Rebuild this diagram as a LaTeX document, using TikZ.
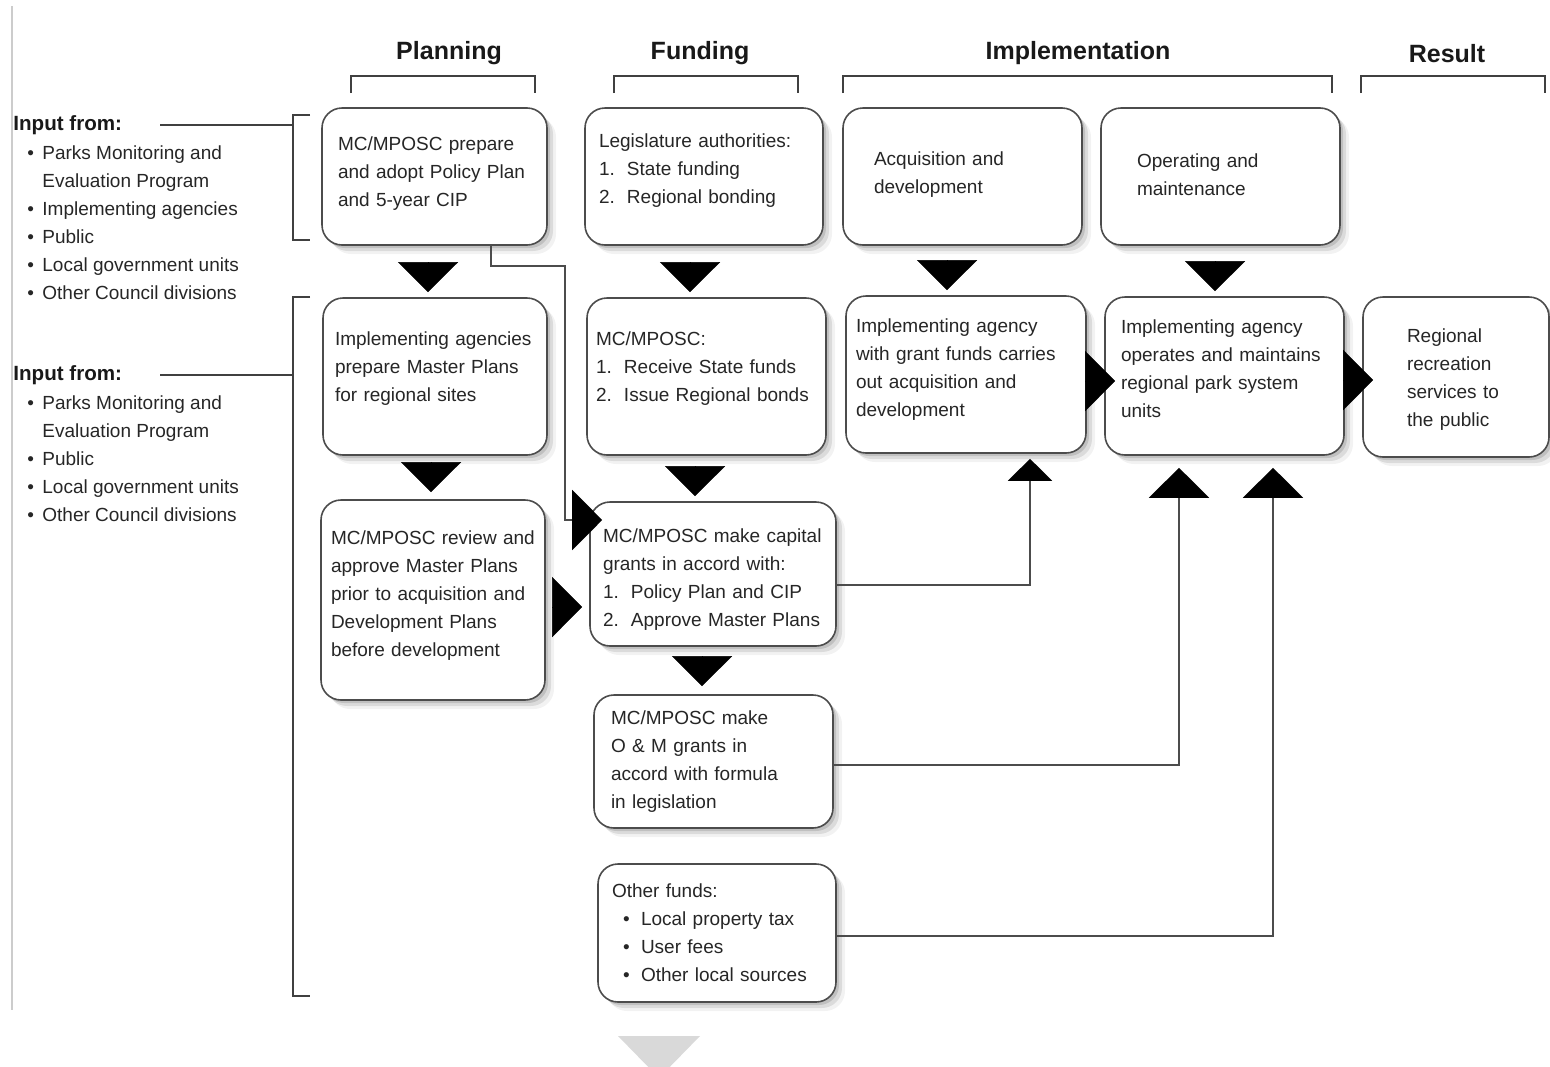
\documentclass[tikz,border=0pt]{standalone}
\usepackage{fontspec}
\setmainfont{Liberation Sans}
\usetikzlibrary{arrows.meta,shadows}

\newcommand{\boxfont}{\fontsize{9.5}{14}\selectfont}
\newcommand{\lbul}{\hspace*{7pt}\makebox[7.5pt][l]{\textbullet}}
\newcommand{\lind}{\hspace*{14.5pt}}
\newcommand{\nbr}[1]{\makebox[14pt][l]{#1}}
\newcommand{\bbul}{\hspace*{5.5pt}\makebox[9pt][l]{\textbullet}}

\tikzset{
  box/.style={draw=black!70, line width=0.8pt, rounded corners=10pt, fill=white,
    drop shadow={shadow xshift=1.5pt, shadow yshift=-1.5pt, opacity=0.3},
    drop shadow={shadow xshift=3pt, shadow yshift=-3pt, opacity=0.2},
    drop shadow={shadow xshift=4.5pt, shadow yshift=-4.5pt, opacity=0.1},
    align=left, text=black!85, font=\boxfont, inner ysep=0pt},
  lift/.style={execute at end node={\par\vspace{#1}}}
}

\begin{document}
\begin{tikzpicture}[x=0.5pt, y=-0.5pt,
  fat/.style={line width=0.2pt, -{Triangle[length=15pt,width=30pt]}},
  link/.style={draw=black!70, line width=1pt},
  endtip/.style={-{Triangle[length=15pt,width=30pt,color=black]}},
  smalltip/.style={-{Triangle[length=11pt,width=22pt,color=black]}},
  bracket/.style={draw=black!75, line width=1pt},
  head/.style={font=\bfseries\fontsize{12.5}{15}\selectfont, text=black!90},
  input/.style={font=\bfseries\fontsize{10.3}{13}\selectfont, anchor=west, inner sep=0pt, text=black!90},
  list/.style={font=\boxfont, align=left, anchor=north west, inner sep=0pt, text=black!85}]

\path[use as bounding box] (0,0) rectangle (1550,1066);
\draw[black!20, line width=1.2pt] (12,6) -- (12,1010);

% column heads
\node[head] (h1) at (449,53) {Planning};
\node[head] (h2) at (700,53) {Funding};
\node[head] (h3) at (1078,53) {Implementation};
\node[head] (h4) at (1447,54) {Result};
\foreach \a/\b in {351/535,614/798,843/1332,1361/1545}
  \draw[bracket] (\a,93) -- (\a,76) -- (\b,76) -- (\b,93);

% inputs
\node[input] (in1) at (13,125) {Input from:};
\node[list] (list1) at (13,145) {\lbul Parks Monitoring and\\ \lind Evaluation Program\\ \lbul Implementing agencies\\ \lbul Public\\ \lbul Local government units\\ \lbul Other Council divisions};
\node[input] (in2) at (13,375) {Input from:};
\node[list] (list2) at (13,395) {\lbul Parks Monitoring and\\ \lind Evaluation Program\\ \lbul Public\\ \lbul Local government units\\ \lbul Other Council divisions};

\coordinate (k1) at (293,127);
\coordinate (k2) at (293,379);
\draw[bracket] (310,115) -- (293,115) -- (293,240) -- (310,240);
\draw[bracket] (310,297) -- (293,297) -- (293,996) -- (310,996);
\draw[bracket] ([xshift=19pt]in1.east) -- (in1.east -| k1);
\draw[bracket] ([xshift=19pt]in2.east) -- (in2.east -| k2);

% planning
\node[box, lift=3pt, text width=96.5pt, inner xsep=8pt, minimum height=68.5pt] (p1) at (434.5,176.5) {MC/MPOSC prepare\\and adopt Policy Plan\\and 5-year CIP};
\node[box, lift=8pt, text width=100pt, inner xsep=6pt, minimum height=78.5pt] (p2) at (435,376.5) {Implementing agencies\\prepare Master Plans\\for regional sites};
\node[box, lift=4pt, text width=102pt, inner xsep=5pt, minimum height=100pt] (p3) at (433,600) {MC/MPOSC review and\\approve Master Plans\\prior to acquisition and\\Development Plans\\before development};

% funding
\node[box, lift=6pt, text width=105pt, inner xsep=7pt, minimum height=68.5pt] (f1) at (704,176.5) {Legislature authorities:\\\nbr{1.}State funding\\\nbr{2.}Regional bonding};
\node[box, lift=8pt, text width=110.5pt, inner xsep=4.5pt, minimum height=78.5pt] (f2) at (706.5,376.5) {MC/MPOSC:\\\nbr{1.}Receive State funds\\\nbr{2.}Issue Regional bonds};
\node[box, lift=-6pt, text width=110pt, inner xsep=6.5pt, minimum height=72pt] (f3) at (713,574) {MC/MPOSC make capital\\grants in accord with:\\\nbr{1.}Policy Plan and CIP\\\nbr{2.}Approve Master Plans};
\node[box, text width=102.5pt, inner xsep=8.5pt, minimum height=66.5pt] (f4) at (713.5,761.5) {MC/MPOSC make\\O \& M grants in\\accord with formula\\in legislation};
\node[box, text width=105pt, inner xsep=7pt, minimum height=69pt] (f5) at (717,933) {Other funds:\\\bbul Local property tax\\\bbul User fees\\\bbul Other local sources};

% implementation
\node[box, lift=2pt, text width=88.5pt, inner xsep=15.5pt, minimum height=68.5pt] (i1) at (962.5,176.5) {Acquisition and\\development};
\node[box, lift=2pt, text width=83.5pt, inner xsep=18pt, minimum height=68.5pt] (i2) at (1220.5,176.5) {Operating and\\maintenance};
\node[box, lift=5pt, text width=110pt, inner xsep=5pt, minimum height=78.5pt] (i3) at (966,374.5) {Implementing agency\\with grant funds carries\\out acquisition and\\development};
\node[box, lift=7pt, text width=103.5pt, inner xsep=8pt, minimum height=79pt] (i4) at (1224.5,376) {Implementing agency\\operates and maintains\\regional park system\\units};

% result
\node[box, lift=-3pt, text width=49pt, inner xsep=22pt, minimum height=80pt] (r1) at (1456,377) {Regional\\recreation\\services to\\the public};

% triangles between boxes
\coordinate (d1) at ([xshift=-3.25pt]p1.south);
\draw[fat, shorten <=9pt, shorten >=2.5pt] (d1) -- (d1 |- p2.north);
\coordinate (d2) at ([xshift=-7pt]f1.south);
\draw[fat, shorten <=9pt, shorten >=2.5pt] (d2) -- (d2 |- f2.north);
\coordinate (d3) at ([xshift=-7.75pt]i1.south);
\draw[fat, shorten <=9pt, shorten >=2.5pt] (d3) -- (d3 |- i3.north);
\coordinate (d4) at ([xshift=-2.75pt]i2.south);
\draw[fat, shorten <=9pt, shorten >=2.5pt] (d4) -- (d4 |- i4.north);
\coordinate (d5) at ([xshift=-2pt]p2.south);
\draw[fat, shorten <=4.5pt, shorten >=3.5pt] (d5) -- (d5 |- p3.north);
\coordinate (d6) at ([xshift=-5.75pt]f2.south);
\draw[fat, shorten <=6.5pt, shorten >=2.5pt] (d6) -- (d6 |- f3.north);
\coordinate (d7) at ([xshift=-5.5pt]f3.south);
\draw[fat, shorten <=5.5pt, shorten >=4pt] (d7) -- (d7 |- f4.north);

\coordinate (e1) at ([yshift=-3.5pt]p3.east);
\draw[fat, shorten <=4pt, shorten >=3.5pt] (e1) -- (e1 -| f3.west);
\coordinate (e2) at ([yshift=-3.25pt]i3.east);
\draw[fat, shorten >=-5.5pt] (e2) -- (e2 -| i4.west);
\coordinate (e3) at ([yshift=-2pt]i4.east);
\draw[fat, shorten >=-5.5pt] (e3) -- (e3 -| r1.west);

% connectors
\coordinate (c1) at ([yshift=-5.5pt]f3.east);
\coordinate (c1e) at ([xshift=32pt]i3.south);
\draw[link, smalltip, shorten >=2.5pt] (c1) -| (c1e);
\coordinate (c2) at ([yshift=-1.75pt]f4.east);
\coordinate (c2e) at ([xshift=-22.75pt]i4.south);
\draw[link, endtip, shorten >=6pt] (c2) -| (c2e);
\coordinate (c3) at ([yshift=-1.5pt]f5.east);
\coordinate (c3e) at ([xshift=24.25pt]i4.south);
\draw[link, endtip, shorten >=6pt] (c3) -| (c3e);
\coordinate (c4) at ([xshift=28.25pt]p1.south);
\coordinate (bend) at (565,266);
\coordinate (c4e) at ([yshift=27pt]f3.west);
\draw[link, endtip, shorten >=-6.5pt] (c4) |- (bend) |- (c4e);

\fill[black!15] (618,1036) -- (700,1036) -- (659,1078) -- cycle;
\end{tikzpicture}
\end{document}
